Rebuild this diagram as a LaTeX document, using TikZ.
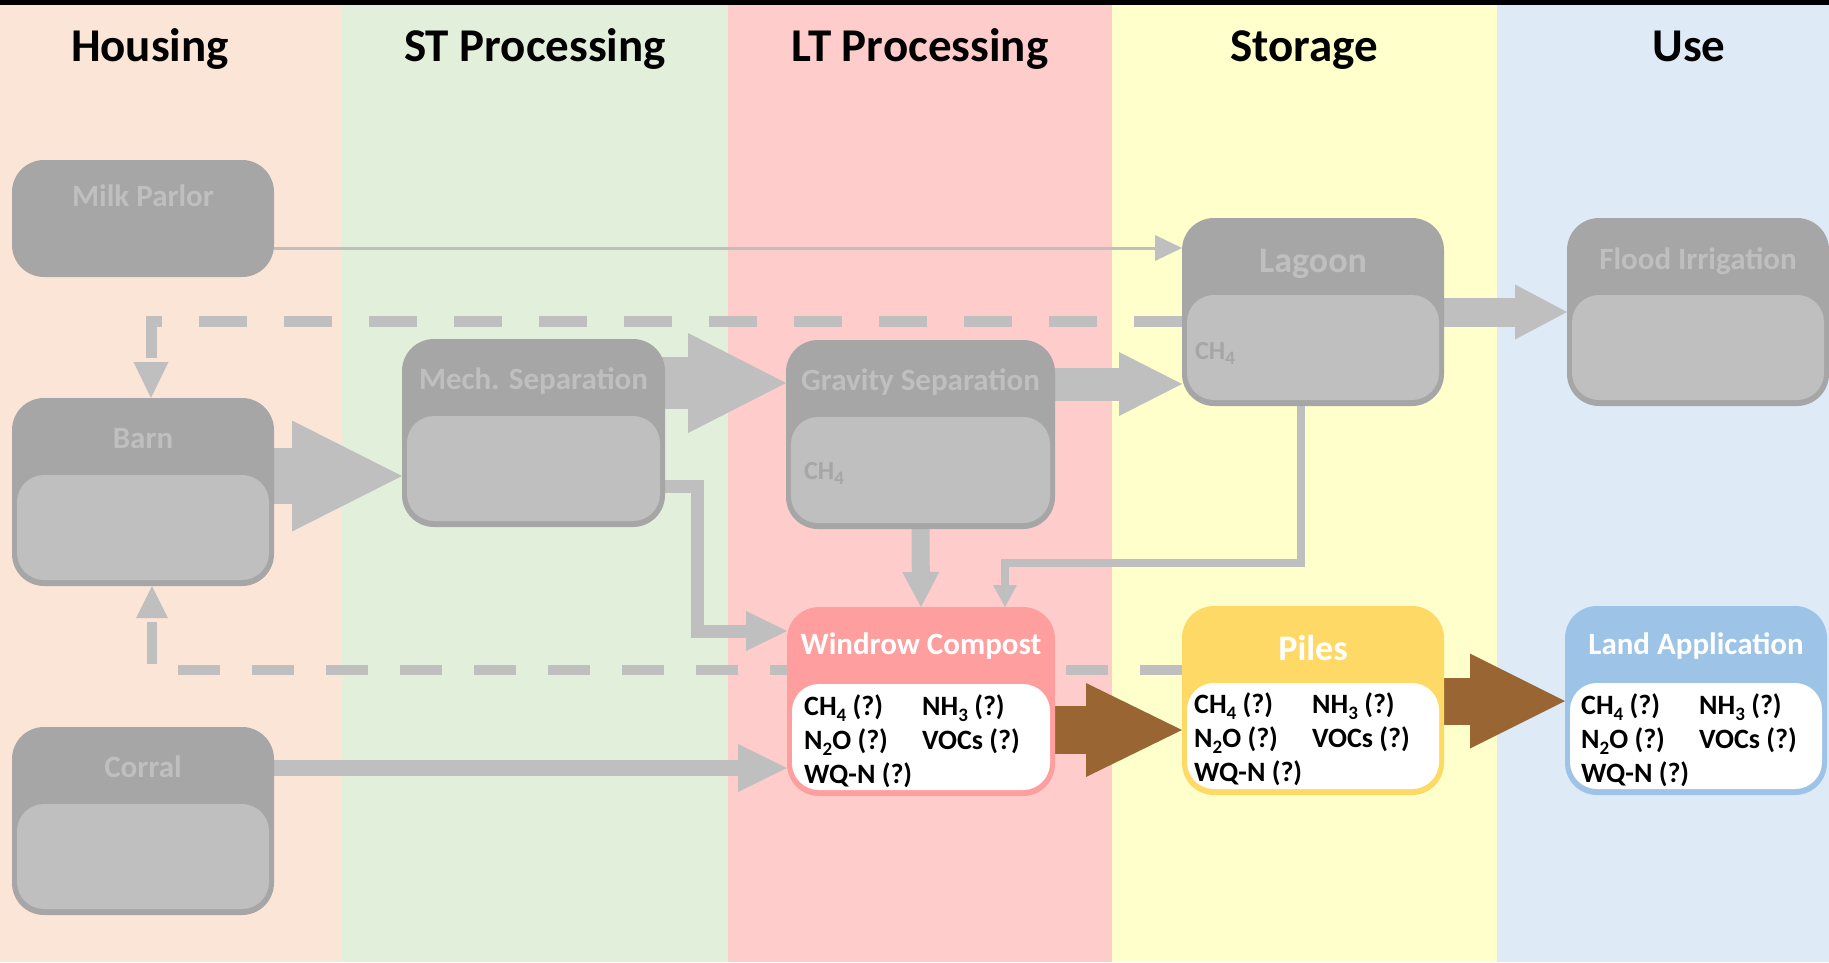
\documentclass[tikz,border=0pt]{standalone}
\usepackage{fontspec}
\setmainfont{Carlito}
\usetikzlibrary{arrows.meta,calc}
\definecolor{cHousing}{HTML}{FBE5D6}
\definecolor{cST}{HTML}{E2EFDA}
\definecolor{cLT}{HTML}{FFCCCC}
\definecolor{cStor}{HTML}{FFFFCC}
\definecolor{cUse}{HTML}{DEEBF7}
\definecolor{gdark}{HTML}{A6A6A6}
\definecolor{glight}{HTML}{BFBFBF}
\definecolor{wincol}{HTML}{FF9E9E}
\definecolor{pilcol}{HTML}{FFD966}
\definecolor{landcol}{HTML}{9DC3E6}
\definecolor{browncol}{HTML}{996633}
\pgfdeclarelayer{back}
\pgfdeclarelayer{mid}
\pgfsetlayers{back,mid,main}
\newcommand{\sbs}[1]{\raisebox{-0.22em}{\fontsize{19}{19}\selectfont #1}}
\newcommand{\gaslist}{\begin{tabular}[t]{@{}l@{}}\makebox[118pt][l]{CH\sbs{4} (?)}NH\sbs{3} (?)\\ \makebox[118pt][l]{N\sbs{2}O (?)}VOCs (?)\\ WQ-N (?)\end{tabular}}
\newcommand{\innerbox}[2]{\fill[#2, rounded corners=27pt] ([xshift=5pt,yshift=6pt]#1.south west) rectangle ([xshift=-5pt,yshift=-77pt]#1.north east);}
\begin{document}
\begin{tikzpicture}[x=1pt,y=-1pt,
  box/.style={rectangle, rounded corners=32pt, minimum width=262pt, minimum height=188pt, inner sep=0pt, outer sep=0pt, anchor=north west, draw=none},
  gbox/.style={box, fill=gdark},
  lab/.style={font=\bfseries\fontsize{31}{36}\selectfont, anchor=base, inner sep=0pt},
  biglab/.style={font=\bfseries\fontsize{36}{42}\selectfont, anchor=base, inner sep=0pt},
  title/.style={font=\bfseries\fontsize{47}{56}\selectfont, anchor=base, inner sep=0pt, text=black},
  gas/.style={font=\bfseries\fontsize{28}{34}\selectfont, anchor=base west, inner sep=0pt, text=black},
  chlab/.style={font=\bfseries\fontsize{26}{30}\selectfont, text=gdark, anchor=base west, inner sep=0pt},
  tipped/.style 2 args={-{Triangle[width=#1pt,length=#2pt,line width=0pt]}},
  conn/.style={draw=glight, line cap=butt, line join=miter}
]
\useasboundingbox (0,0) rectangle (1829,962);
\begin{pgfonlayer}{back}
\fill[cHousing] (0,0) rectangle (342,962);
\fill[cST] (342,0) rectangle (728,962);
\fill[cLT] (728,0) rectangle (1112,962);
\fill[cStor] (1112,0) rectangle (1497,962);
\fill[cUse] (1497,0) rectangle (1829,962);
\fill[black] (0,0) rectangle (1829,5);
\end{pgfonlayer}

% column titles
\node[title] (tHousing) at (150,61) {Housing};
\node[title] (tST) at (535,61) {ST Processing};
\node[title] (tLT) at (920,61) {LT Processing};
\node[title] (tStor) at (1304,61) {Storage};
\node[title] (tUse) at (1689,61) {Use};

% boxes
\node[gbox, minimum height=117pt] (milk) at (12,160) {};
\node[gbox] (barn) at (12,398) {};
\node[gbox] (corral) at (12,727) {};
\node[gbox, minimum width=263pt] (mech) at (402,339) {};
\node[gbox, minimum width=269pt, minimum height=189pt] (grav) at (786,340) {};
\node[gbox] (lagoon) at (1182,218) {};
\node[gbox] (flood) at (1567,218) {};
\node[box, fill=wincol, minimum width=268pt, minimum height=189pt] (wind) at (787,607) {};
\node[box, fill=pilcol, minimum height=189pt] (piles) at (1182,606) {};
\node[box, fill=landcol, minimum height=189pt] (land) at (1565,606) {};

\innerbox{barn}{glight}
\innerbox{corral}{glight}
\innerbox{mech}{glight}
\innerbox{grav}{glight}
\innerbox{lagoon}{glight}
\innerbox{flood}{glight}
\innerbox{wind}{white}
\innerbox{piles}{white}
\innerbox{land}{white}

% box labels
\node[lab, text=glight] (milk-t) at ([yshift=-46pt]milk.north) {Milk Parlor};
\node[lab, text=glight] (barn-t) at ([yshift=-50pt]barn.north) {Barn};
\node[lab, text=glight] (corral-t) at ([yshift=-50pt]corral.north) {Corral};
\node[lab, text=glight] (mech-t) at ([yshift=-50pt]mech.north) {Mech. Separation};
\node[lab, text=glight] (grav-t) at ([yshift=-50pt]grav.north) {Gravity Separation};
\node[biglab, text=glight] (lagoon-t) at ([yshift=-54pt]lagoon.north) {Lagoon};
\node[lab, text=glight] (flood-t) at ([yshift=-51pt]flood.north) {Flood Irrigation};
\node[lab, text=white] (wind-t) at ([yshift=-47pt]wind.north) {Windrow Compost};
\node[biglab, text=white] (piles-t) at ([yshift=-54pt]piles.north) {Piles};
\node[lab, text=white] (land-t) at ([yshift=-48pt]land.north) {Land Application};

% contents
\node[chlab] (grav-c) at ([xshift=18pt,yshift=-139pt]grav.north west) {CH\sbs{4}};
\node[chlab] (lagoon-c) at ([xshift=13pt,yshift=-141pt]lagoon.north west) {CH\sbs{4}};
\node[gas] (wind-g) at ([xshift=17pt,yshift=-108pt]wind.north west) {\gaslist};
\node[gas] (piles-g) at ([xshift=12pt,yshift=-107pt]piles.north west) {\gaslist};
\node[gas] (land-g) at ([xshift=16pt,yshift=-108pt]land.north west) {\gaslist};

% connectors
\begin{pgfonlayer}{mid}
\draw[conn, line width=3pt, tipped={26}{27}] (milk.east |- 0,248) -- (lagoon.west |- 0,248);
\draw[conn, line width=11pt, dash pattern=on 48pt off 37pt, tipped={35}{36}] (lagoon.west |- 0,321) -| (barn.north -| 151,0);
\draw[conn, line width=10pt, dash pattern=on 42pt off 32pt, tipped={32}{32}] (piles.west |- 0,670) -| (barn.south -| 152,0);
\draw[conn, line width=56pt, tipped={111}{110}] (barn.east |- 0,476) -- (mech.west |- 0,476);
\draw[conn, line width=52pt, tipped={100}{98}] ($(mech.east |- 0,383)+(-12,0)$) -- (grav.west |- 0,383);
\draw[conn, line width=33pt, tipped={64}{63}] (grav.east |- 0,384) -- (lagoon.west |- 0,384);
\draw[conn, line width=29pt, tipped={55}{52}] (lagoon.east |- 0,312) -- (flood.west |- 0,312);
\draw[conn, line width=13pt, tipped={40}{41}] (mech.east |- 0,486) -| (697,631) -- (wind.west |- 0,631);
\draw[conn, line width=18pt, tipped={37}{35}] (grav.south) -- (wind.north);
\draw[conn, line width=8pt, tipped={24}{22}] (lagoon.south -| 1301,0) |- (1005,563) -- (wind.north -| 1005,0);
\draw[conn, line width=16pt, tipped={48}{49}] (corral.east |- 0,768) -- (wind.west |- 0,768);
\draw[draw=browncol, line width=48pt, tipped={94}{96}] (wind.east |- 0,730) -- (piles.west |- 0,730);
\draw[draw=browncol, line width=47pt, tipped={95}{95}] (piles.east |- 0,701) -- (land.west |- 0,701);
\end{pgfonlayer}
\end{tikzpicture}
\end{document}
